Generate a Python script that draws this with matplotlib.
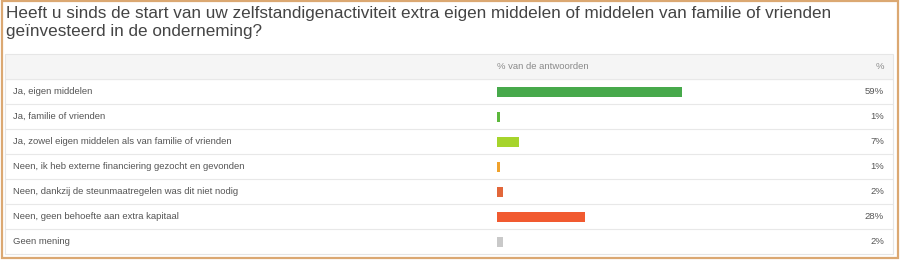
import matplotlib.pyplot as plt
from matplotlib.patches import Rectangle

plt.rcParams['font.family'] = ['Liberation Sans', 'DejaVu Sans']

title = ("Heeft u sinds de start van uw zelfstandigenactiviteit extra eigen middelen of middelen van familie of vrienden\n"
         "geïnvesteerd in de onderneming?")
answers = ["Ja, eigen middelen",
           "Ja, familie of vrienden",
           "Ja, zowel eigen middelen als van familie of vrienden",
           "Neen, ik heb externe financiering gezocht en gevonden",
           "Neen, dankzij de steunmaatregelen was dit niet nodig",
           "Neen, geen behoefte aan extra kapitaal",
           "Geen mening"]
percent = [59, 1, 7, 1, 2, 28, 2]
colors = ["#47a94b", "#5cb83c", "#a6d42c", "#f0a22c", "#e2673a", "#f15a30", "#c9c9c9"]

W, H = 900, 261
fig = plt.figure(figsize=(W / 100, H / 100), dpi=100)
fig.patch.set_facecolor("white")

# outer tan frame
fig.patches.append(Rectangle((1.5 / W, 3 / H), (W - 4) / W, (H - 4) / H,
                             transform=fig.transFigure, fill=False,
                             edgecolor="#dba872", linewidth=1.6))

fig.text(6 / W, 1 - 36 / H, title, ha="left", va="baseline", fontsize=12.3,
         color="#444444", linespacing=1.25)

# table axes: x in percent (0 at px 497, 3.13 px per %), y in rows
left_px, right_px, top_px, bot_px = 5, 893, 54, 254
px_per = 3.13
x0 = -(497 - left_px) / px_per
x1 = (right_px - 497) / px_per
ax = fig.add_axes([left_px / W, 1 - bot_px / H, (right_px - left_px) / W, (bot_px - top_px) / H])
ax.set_xlim(x0, x1)
ax.set_ylim(len(answers) - 0.5, -1.5)
ax.axis("off")

ax.axhspan(-1.5, -0.5, color="#f5f5f5", zorder=0)
for i in range(len(answers)):
    ax.axhline(i - 0.5, color="#e8e8e8", linewidth=0.8, zorder=1)
ax.add_patch(Rectangle((0, 0), 1, 1, transform=ax.transAxes, fill=False,
                       edgecolor="#e6e6e6", linewidth=0.8, clip_on=False))

ax.barh(range(len(answers)), percent, height=0.4, color=colors, zorder=2)

lab_x = x0 + 8 / px_per
val_x = x1 - 9 / px_per
ax.text(0, -1, "% van de antwoorden", ha="left", va="center", fontsize=6.8, color="#8a8a8a")
ax.text(val_x, -1, "%", ha="right", va="center", fontsize=6.8, color="#8a8a8a")
for i, (a, p) in enumerate(zip(answers, percent)):
    ax.text(lab_x, i, a, ha="left", va="center", fontsize=6.8, color="#555555")
    ax.text(val_x, i, f"{p}%", ha="right", va="center", fontsize=6.8, color="#555555")

fig.savefig("out.png", dpi=100, facecolor="white")
